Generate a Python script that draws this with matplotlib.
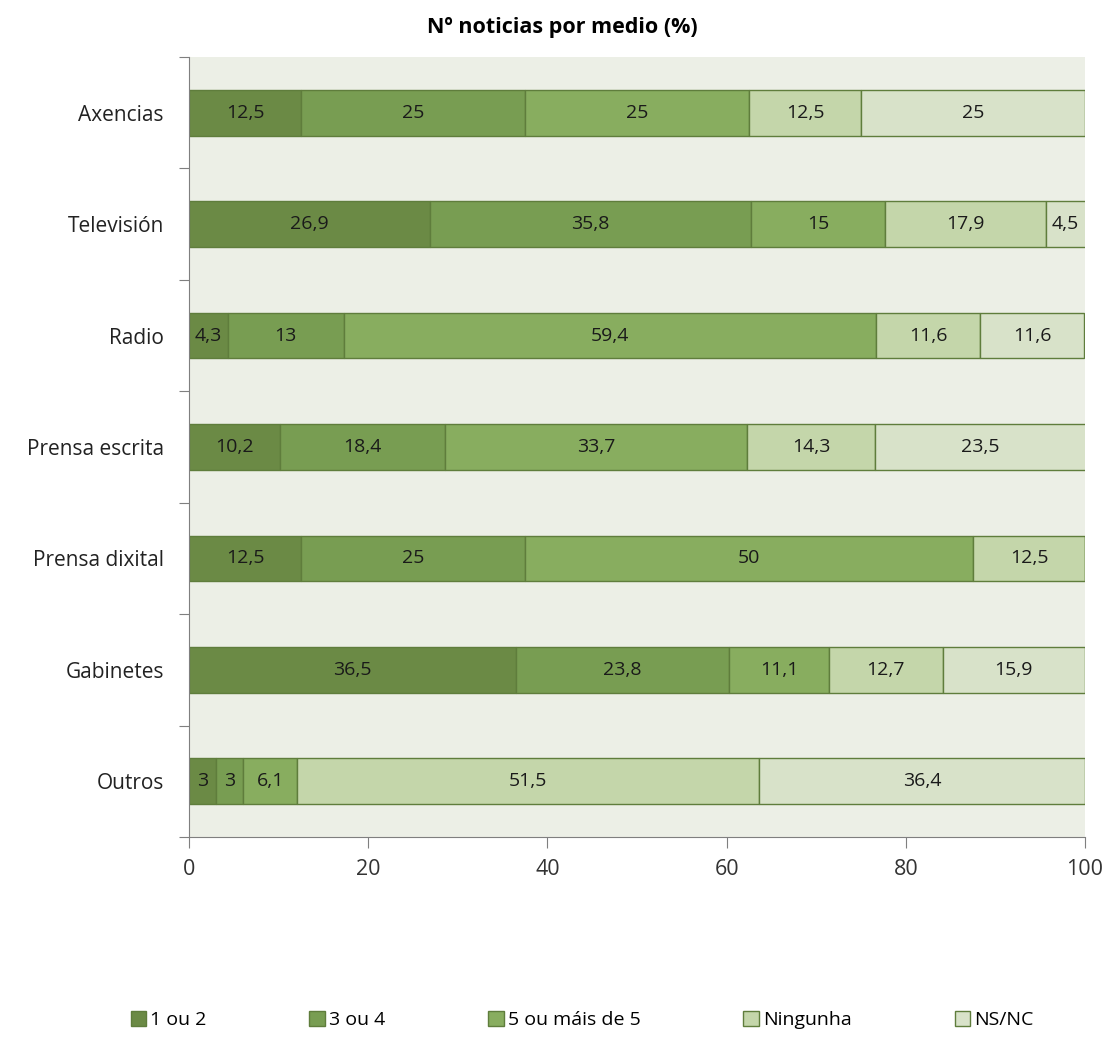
import matplotlib.pyplot as plt
import numpy as np

plt.rcParams['font.family'] = ['Open Sans', 'DejaVu Sans']

categories = ['Axencias', 'Televisión', 'Radio', 'Prensa escrita',
              'Prensa dixital', 'Gabinetes', 'Outros']
series_names = ['1 ou 2', '3 ou 4', '5 ou máis de 5', 'Ningunha', 'NS/NC']

s_1_2 = [12.5, 26.9, 4.3, 10.2, 12.5, 36.5, 3]
s_3_4 = [25, 35.8, 13, 18.4, 25, 23.8, 3]
s_5_plus = [25, 15, 59.4, 33.7, 50, 11.1, 6.1]
s_ningunha = [12.5, 17.9, 11.6, 14.3, 12.5, 12.7, 51.5]
s_nsnc = [25, 4.5, 11.6, 23.5, 0, 15.9, 36.4]

colors = ['#6b8a45', '#789d52', '#88ad5f', '#c4d6aa', '#d8e2c9']


def main() -> None:
    fig = plt.figure(figsize=(11.08, 10.43), dpi=100)
    ax = fig.add_axes([189 / 1108, 1 - 837 / 1043, 896 / 1108, 780 / 1043])
    ax.set_facecolor('#ecefe6')

    series = [s_1_2, s_3_4, s_5_plus, s_ningunha, s_nsnc]
    y = np.arange(len(categories))
    left = np.zeros(len(categories))
    for name, vals, col in zip(series_names, series, colors):
        vals = np.array(vals, dtype=float)
        ax.barh(y, vals, left=left, height=0.41, color=col,
                edgecolor='#5f7d3c', linewidth=1.0, label=name)
        for yi, (l, v) in enumerate(zip(left, vals)):
            if v > 0:
                txt = ('%g' % v).replace('.', ',')
                ax.text(l + v / 2, yi, txt, ha='center', va='center',
                        fontsize=14, color='#1a1a1a')
        left += vals

    ax.set_xlim(0, 100)
    ax.set_ylim(len(categories) - 0.5, -0.5)
    ax.set_xticks(range(0, 101, 20))
    ax.tick_params(axis='x', direction='out', length=8, color='#7f7f7f',
                   labelsize=15.5, pad=8, labelcolor='#333333')
    ax.set_yticks(np.arange(-0.5, len(categories) + 0.5, 1), minor=False)
    ax.set_yticklabels([])
    ax.set_yticks(y, minor=True)
    ax.set_yticklabels(categories, minor=True)
    ax.tick_params(axis='y', which='major', direction='out', length=7,
                   color='#7f7f7f')
    ax.tick_params(axis='y', which='minor', length=0, labelsize=15,
                   pad=18, labelcolor='#222222')

    for side in ['top', 'right']:
        ax.spines[side].set_visible(False)
    for side in ['left', 'bottom']:
        ax.spines[side].set_color('#7f7f7f')

    fig.text(562 / 1108, 1 - 28 / 1043, 'Nº noticias por medio (%)',
             ha='center', va='center', fontsize=15.5, fontweight='bold')

    fig.legend(loc='center', bbox_to_anchor=(582 / 1108, 1 - 1020 / 1043),
               ncol=5, frameon=False, fontsize=14, handlelength=0.8,
               handleheight=0.8, handletextpad=0.2, columnspacing=5.3)

    fig.savefig('out.png', dpi=100)


if __name__ == "__main__":
    main()
